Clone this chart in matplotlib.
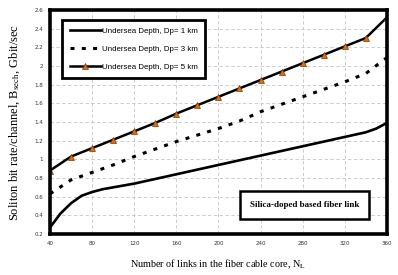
import matplotlib
matplotlib.use("Agg")
import matplotlib.pyplot as plt

plt.rcParams['mathtext.fontset'] = 'stix'

# Data
x_links = [40, 60, 80, 100, 120, 140, 160, 180, 200, 220, 240, 260, 280, 300, 320, 340, 360]
x_dp1 = [40, 50, 60, 70, 80, 90, 100, 120, 140, 160, 180, 200, 220, 240, 260, 280, 300, 320, 340, 350, 360]
dp1 = [0.27, 0.42, 0.53, 0.61, 0.65, 0.68, 0.70, 0.74, 0.79, 0.84, 0.89, 0.94, 0.99, 1.04, 1.09, 1.14, 1.19, 1.24, 1.29, 1.33, 1.39]
dp3 = [0.63, 0.78, 0.86, 0.94, 1.03, 1.11, 1.19, 1.26, 1.33, 1.41, 1.51, 1.59, 1.67, 1.75, 1.83, 1.92, 2.09]
dp5 = [0.88, 1.03, 1.12, 1.21, 1.30, 1.39, 1.49, 1.58, 1.67, 1.76, 1.85, 1.94, 2.03, 2.12, 2.21, 2.30, 2.52]

xticks = [40, 80, 120, 160, 200, 240, 280, 320, 360]
yticks = [0.2, 0.4, 0.6, 0.8, 1.0, 1.2, 1.4, 1.6, 1.8, 2.0, 2.2, 2.4, 2.6]
labels = ["Undersea Depth, Dp= 1 km", "Undersea Depth, Dp= 3 km", "Undersea Depth, Dp= 5 km"]

fig = plt.figure(figsize=(3.98, 2.75), dpi=100)
ax = fig.add_axes([0.1256, 0.149, 0.8464, 0.8146])

ax.plot(x_dp1, dp1, color='black', lw=1.9, label=labels[0])
ax.plot(x_links, dp3, color='black', lw=2.2, linestyle=(0, (1.3, 2.4)), label=labels[1])
ax.plot(x_links, dp5, color='black', lw=1.8, marker='^', markersize=5,
        markerfacecolor='#E26B0A', markeredgecolor='#7a3a05', markeredgewidth=0.5, label=labels[2])

ax.set_xlim(40, 360)
ax.set_ylim(0.2, 2.6)
ax.set_xticks(xticks)
ax.set_yticks(yticks)
ax.set_xticklabels([str(v) for v in xticks])
ax.set_yticklabels(['%g' % v for v in yticks])
ax.tick_params(axis='both', labelsize=4, length=0, pad=5, colors='#333333')
ax.grid(True, color='#c4c4c4', linestyle=(0, (4, 3)), lw=0.6)
for s in ax.spines.values():
    s.set_linewidth(2.6)
    s.set_color('black')

ax.set_xlabel('Number of links in the fiber cable core, N$_{\\mathrm{L}}$',
              family='Liberation Serif', fontsize=7.3, labelpad=8)
ax.set_ylabel('Soliton bit rate/channel, B$_{\\mathrm{sech}}$, Gbit/sec',
              family='Liberation Serif', fontsize=9, labelpad=9)

leg = ax.legend(loc='upper left', bbox_to_anchor=(0.036, 0.955), borderaxespad=0,
                prop={'family': 'Liberation Sans', 'size': 5.7},
                handlelength=3.9, handletextpad=0.2, labelspacing=1.3, fancybox=False,
                framealpha=1, edgecolor='black', borderpad=0.95)
leg.get_frame().set_linewidth(2.0)

ax.text(0.756, 0.13, 'Silica-doped based fiber link', transform=ax.transAxes,
        ha='center', va='center', family='Liberation Serif', fontweight='bold', fontsize=6.5,
        bbox=dict(boxstyle='square,pad=1.1', facecolor='white', edgecolor='black', linewidth=1.8))

fig.savefig('out.png', dpi=100)
